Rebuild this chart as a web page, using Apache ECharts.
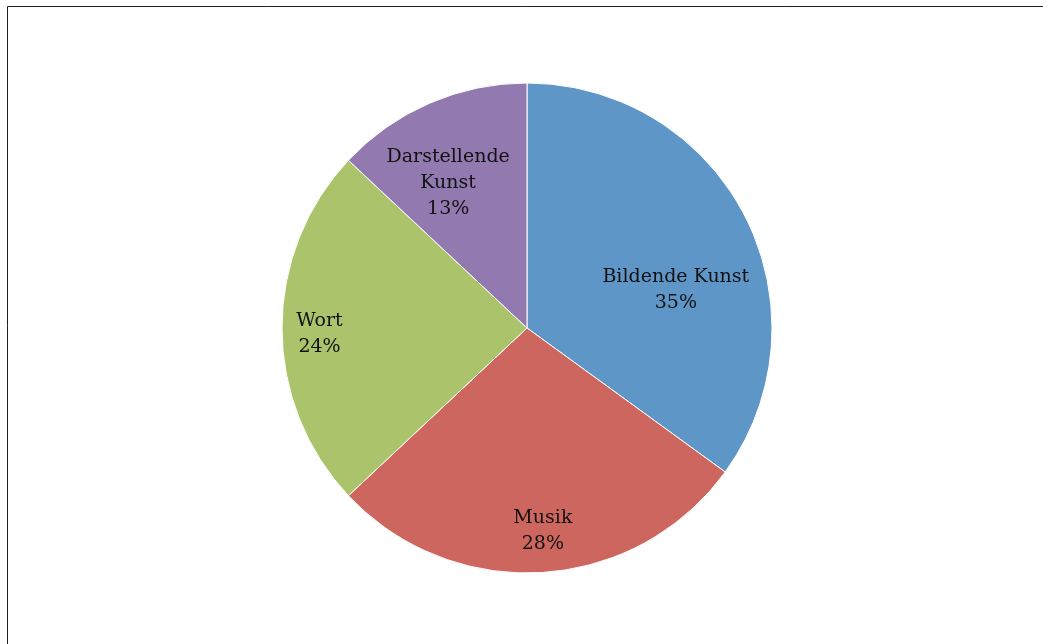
<!DOCTYPE html>
<html>
<head>
<meta charset="utf-8">
<script src="https://cdn.jsdelivr.net/npm/echarts@6/dist/echarts.min.js"></script>
<style>
  html, body { margin: 0; padding: 0; background: #fff; }
  #chart { width: 1043px; height: 644px; }
</style>
</head>
<body>
<div id="chart"></div>
<script>
// Sparten und Anteile in Prozent
const categories = ['Bildende Kunst', 'Musik', 'Wort', 'Darstellende\nKunst'];
const shares = [35, 28, 24, 13];
const colors = ['#5f96c8', '#cd665e', '#abc46b', '#927ab0'];

// label nudges from the default inside position, per slice
const labelShift = [[37, 19], [8, 78], [-82, 6], [-29, -30]];

const chart = echarts.init(document.getElementById('chart'), null, { renderer: 'canvas' });

chart.setOption({
  animation: false,
  backgroundColor: '#ffffff',
  graphic: [{
    type: 'rect',
    shape: { x: 7.5, y: 6.5, width: 1100, height: 700 },
    style: { fill: 'none', stroke: '#1e1e1e', lineWidth: 1 },
    silent: true
  }],
  series: [{
    type: 'pie',
    center: [527, 328],
    radius: [0, 245],
    startAngle: 90,
    clockwise: true,
    avoidLabelOverlap: false,
    itemStyle: { borderColor: '#ffffff', borderWidth: 1 },
    label: {
      show: true,
      position: 'inside',
      formatter: p => p.name + '\n' + p.value + '%',
      fontFamily: 'DejaVu Serif',
      fontSize: 19,
      lineHeight: 26,
      color: '#111111',
      align: 'center'
    },
    labelLine: { show: false },
    labelLayout: p => ({ dx: labelShift[p.dataIndex][0], dy: labelShift[p.dataIndex][1] }),
    emphasis: { disabled: true },
    data: categories.map((name, i) => ({
      name: name,
      value: shares[i],
      itemStyle: { color: colors[i] }
    }))
  }]
});
</script>
</body>
</html>
